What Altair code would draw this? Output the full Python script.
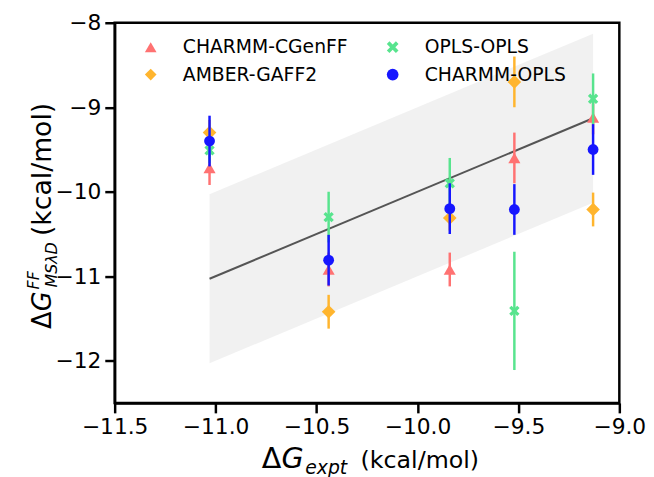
import altair as alt
import pandas as pd

# ---- data ----
expt = [-11.03, -10.44, -9.84, -9.52, -9.13]
series_names = ["CHARMM-CGenFF", "AMBER-GAFF2", "OPLS-OPLS", "CHARMM-OPLS"]
cgenff = [-9.72, -10.92, -10.92, -9.60, -9.12]
cgenff_err = [0.20, 0.20, 0.20, 0.30, 0.20]
amber = [-9.30, -11.42, -10.31, -8.70, -10.21]
amber_err = [0.15, 0.20, 0.15, 0.30, 0.20]
opls = [-9.51, -10.30, -9.90, -11.41, -8.90]
opls_err = [0.15, 0.30, 0.30, 0.70, 0.30]
charmm_opls = [-9.40, -10.81, -10.20, -10.21, -9.50]
charmm_opls_err = [0.30, 0.30, 0.30, 0.30, 0.30]

x_ticks = [-11.5, -11.0, -10.5, -10.0, -9.5, -9.0]
y_ticks = [-12, -11, -10, -9, -8]

colors = {"CHARMM-CGenFF": "#ff7272", "AMBER-GAFF2": "#ffb52e",
          "OPLS-OPLS": "#58e48e", "CHARMM-OPLS": "#1616ff"}
xpath = "M-1,-0.55L-0.55,-1L0,-0.45L0.55,-1L1,-0.55L0.45,0L1,0.55L0.55,1L0,0.45L-0.55,1L-1,0.55L-0.45,0Z"
shapes = {"CHARMM-CGenFF": "triangle-up", "AMBER-GAFF2": "diamond",
          "OPLS-OPLS": xpath, "CHARMM-OPLS": "circle"}
sizes = {"CHARMM-CGenFF": 150, "AMBER-GAFF2": 190, "OPLS-OPLS": 110, "CHARMM-OPLS": 120}

vals = {"CHARMM-CGenFF": (cgenff, cgenff_err), "AMBER-GAFF2": (amber, amber_err),
        "OPLS-OPLS": (opls, opls_err), "CHARMM-OPLS": (charmm_opls, charmm_opls_err)}

rows = []
for s in series_names:
    v, e = vals[s]
    for xe, yv, ev in zip(expt, v, e):
        rows.append({"series": s, "expt": xe, "calc": yv, "lo": yv - ev, "hi": yv + ev})
df = pd.DataFrame(rows)

band = pd.DataFrame({"expt": [min(expt), max(expt)]})
band["lo"] = band["expt"] - 1
band["hi"] = band["expt"] + 1
band["mid"] = band["expt"]

FONT = "DejaVu Sans"
xs = alt.Scale(domain=[-11.5, -9.0], nice=False, zero=False)
ys = alt.Scale(domain=[-12.5, -8.0], nice=False, zero=False)
axis_common = dict(labelFont=FONT, labelFontSize=22, labelColor="black", tickColor="black",
                   domainColor="black", tickSize=10, tickWidth=2.5, domainWidth=2.5,
                   grid=False, title=None, labelFlush=False)
xaxis = alt.Axis(values=x_ticks, format=".1f", labelPadding=4, **axis_common)
yaxis = alt.Axis(values=y_ticks, format="d", labelPadding=4, **axis_common)

band_layer = alt.Chart(band).mark_area(color="#f0f0f0", opacity=0.9).encode(
    x=alt.X("expt:Q", scale=xs, axis=xaxis), y=alt.Y("lo:Q", scale=ys, axis=yaxis), y2="hi:Q")
line_layer = alt.Chart(band).mark_line(color="#444444", strokeWidth=2, opacity=0.9).encode(
    x=alt.X("expt:Q", scale=xs), y=alt.Y("mid:Q", scale=ys))

legend_order = series_names
color_scale = alt.Scale(domain=legend_order, range=[colors[s] for s in legend_order])
shape_scale = alt.Scale(domain=legend_order, range=[shapes[s] for s in legend_order])

layers = [band_layer, line_layer]
for s in series_names:
    sub = df[df["series"] == s]
    rule = alt.Chart(sub).mark_rule(color=colors[s], strokeWidth=2.5).encode(
        x=alt.X("expt:Q", scale=xs), y=alt.Y("lo:Q", scale=ys), y2="hi:Q")
    pts = alt.Chart(sub).mark_point(filled=True, opacity=1, size=sizes[s], strokeWidth=0).encode(
        x=alt.X("expt:Q", scale=xs), y=alt.Y("calc:Q", scale=ys),
        color=alt.Color("series:N", scale=color_scale, title=None),
        shape=alt.Shape("series:N", scale=shape_scale, title=None))
    layers += [rule, pts]

def txt(t, x, y, size, italic=False, angle=0, dy=0):
    return alt.Chart(pd.DataFrame({"t": [t]})).mark_text(
        text=t, font=FONT, fontSize=size, fontStyle="italic" if italic else "normal",
        align="left", baseline="alphabetic", angle=angle, color="black", dy=dy).encode(
        x=alt.value(x), y=alt.value(y))

# x-axis title: ΔG_expt (kcal/mol)
layers += [
    txt("Δ", 149, 451, 29),
    txt("G", 169, 451, 29, italic=True),
    txt("expt", 193, 457, 19, italic=True),
    txt("(kcal/mol)", 249, 451, 24),
]
# y-axis title: ΔG^FF_MSλD (kcal/mol), rotated
layers += [
    txt("Δ", -64, 310, 26, angle=270),
    txt("G", -64, 292, 26, italic=True, angle=270),
    txt("FF", -77, 270, 16, italic=True, angle=270),
    txt("MSλD", -58, 268, 16, italic=True, angle=270),
    txt("(kcal/mol)", -64, 216, 27, angle=270),
]

chart = alt.layer(*layers).properties(
    width=511, height=385, autosize="none",
    padding={"left": 108, "top": 12, "right": 27, "bottom": 72},
).configure_view(stroke="black", strokeWidth=2.5).configure_legend(
    orient="none", legendX=27, legendY=15, columns=2, padding=0,
    labelFont=FONT, labelFontSize=19, labelColor="black", labelOffset=23, labelLimit=400,
    columnPadding=36, rowPadding=8, symbolSize=140, symbolStrokeWidth=0,
    symbolOpacity=1, title=None,
)

chart.save("out.html", embed_options={"renderer": "svg", "actions": False})
